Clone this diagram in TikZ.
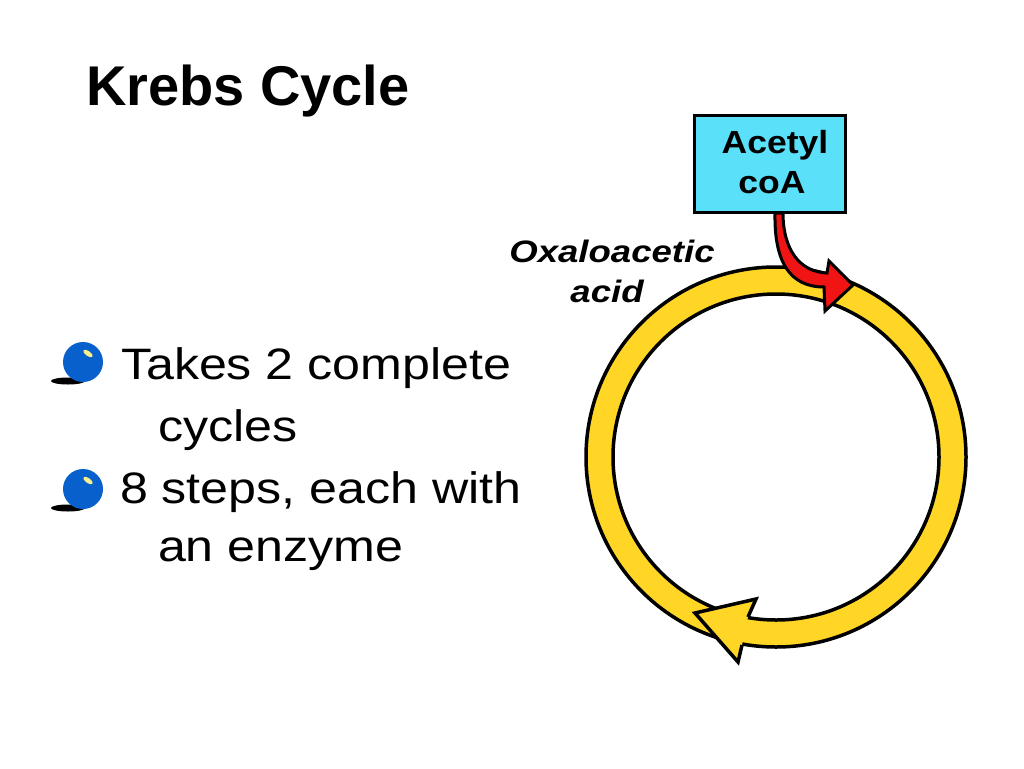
\documentclass[tikz,border=0pt]{standalone}
\usepackage{fontspec}
\setmainfont{Liberation Sans}
\definecolor{ringyellow}{RGB}{255,214,38}
\definecolor{boxcyan}{RGB}{90,224,248}
\definecolor{arrowred}{RGB}{240,20,20}
\definecolor{ballblue}{RGB}{8,96,204}
\definecolor{glint}{RGB}{250,240,140}
\tikzset{
  txt/.style={inner sep=0pt, outer sep=0pt},
  titletxt/.style={txt, font=\fontsize{56}{60}\selectfont\bfseries},
  bultxt/.style={txt, font=\fontsize{44}{50}\selectfont},
  oxatxt/.style={txt, font=\fontsize{31}{36}\selectfont\bfseries\itshape},
  boxtxt/.style={txt, font=\fontsize{32}{36}\selectfont\bfseries},
  outl/.style={draw=black, line width=3pt, line join=miter},
}
\newcommand{\bulletball}[2]{%
  \fill[black] (#1-15,#2+19) ellipse [x radius=17pt, y radius=3.5pt];
  \fill[ballblue] (#1,#2) circle [radius=20pt];
  \fill[glint, rotate around={-35:(#1+5,#2-8.5)}] (#1+5,#2-8.5) ellipse [x radius=5.5pt, y radius=2.5pt];
}
\begin{document}
\begin{tikzpicture}[x=1pt,y=-1pt]
\useasboundingbox[fill=white] (0,0) rectangle (1024,768);

% title
\node[titletxt, anchor=base west] (title) at (86,105) {Krebs Cycle};

% bullets
\bulletball{83}{362}
\bulletball{83}{489}
\node[bultxt, anchor=base west] (b1) at (121,379) {\scalebox{1.14}[1]{Takes 2 complete}};
\node[bultxt, anchor=base west] (b1b) at (158,441) {\scalebox{1.14}[1]{cycles}};
\node[bultxt, anchor=base west] (b2) at (120,503) {\scalebox{1.14}[1]{8 steps, each with}};
\node[bultxt, anchor=base west] (b2b) at (158,561) {\scalebox{1.14}[1]{an enzyme}};

% ring
\coordinate (c) at (776,457);
\path[fill=ringyellow, draw=black, line width=3.5pt, even odd rule]
  (c) circle [radius=190pt] (c) circle [radius=163pt];
% ring arrowhead
\coordinate (tip) at (695,613);
\coordinate (ub) at (756,599);
\coordinate (un) at (748,617);
\coordinate (ln) at (742,645);
\coordinate (lb) at (738,662);
\fill[ringyellow] (tip) -- (ub) -- (un) -- (ln) -- (lb) -- cycle;
\draw[outl, line width=3.5pt] (un) -- (ub) -- (tip) -- (lb) -- (ln);

% Acetyl coA box
\node[outl, fill=boxcyan, minimum width=151pt, minimum height=97pt, inner sep=0pt] (acoa) at (769.5,163.5) {};
\node[boxtxt, anchor=base] (acetyl) at (775,153) {\scalebox{1.11}[1]{Acetyl}};
\node[boxtxt, anchor=base] (coa) at (772,193) {\scalebox{1.11}[1]{coA}};

% red arrow
\filldraw[fill=arrowred, draw=black, line width=3pt, line join=miter]
  (775,213) .. controls (774,262) and (790,287) .. (824,287)
  -- (825,311) -- (853,285) -- (829,261) -- (827,273)
  .. controls (800,272) and (783,250) .. (783,213) -- cycle;

% Oxaloacetic acid label
\node[oxatxt, anchor=base] (oxa) at (612,262) {\scalebox{1.18}[1]{Oxaloacetic}};
\node[oxatxt, anchor=base] (acid) at (607,302) {\scalebox{1.18}[1]{acid}};
\end{tikzpicture}
\end{document}
